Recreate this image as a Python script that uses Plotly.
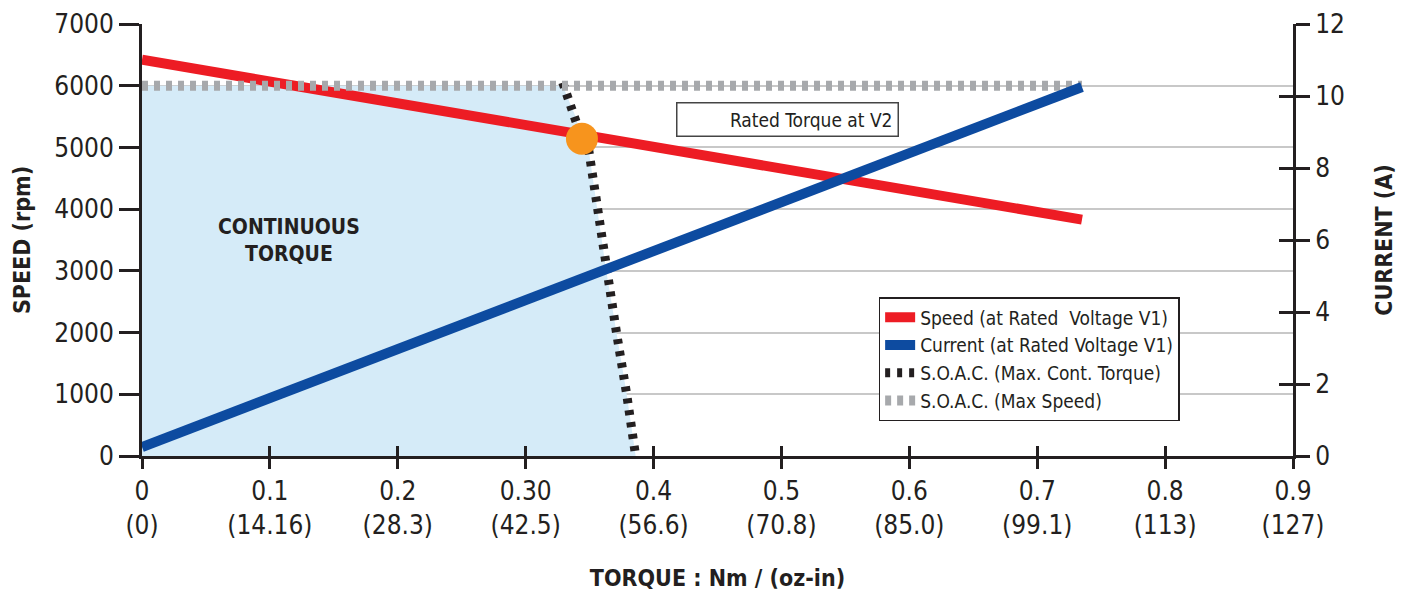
import plotly.graph_objects as go

# ---- data ----
torque_line = [0.0, 0.735]
speed_rpm = [6420, 3830]
current_a = [0.25, 10.25]
max_speed_torque = [0.0, 0.735]
max_speed_rpm = [6000, 6000]
soac_torque = [0.329, 0.339, 0.344, 0.349, 0.356, 0.363, 0.371, 0.379, 0.386]
soac_speed = [6050, 5500, 5140, 5000, 4000, 3000, 2000, 1000, 0]
rated_point_torque = [0.344]
rated_point_speed = [5140]
x_tickvals = [0, 0.1, 0.2, 0.3, 0.4, 0.5, 0.6, 0.7, 0.8, 0.9]
x_ticktext = ["0<br>(0)", "0.1<br>(14.16)", "0.2<br>(28.3)", "0.30<br>(42.5)", "0.4<br>(56.6)",
              "0.5<br>(70.8)", "0.6<br>(85.0)", "0.7<br>(99.1)", "0.8<br>(113)", "0.9<br>(127)"]
y_tickvals = [0, 1000, 2000, 3000, 4000, 5000, 6000, 7000]
y2_tickvals = [0, 2, 4, 6, 8, 10, 12]

FONT = "DejaVu Sans Condensed, Liberation Sans Narrow, Arial Narrow, sans-serif"
DARK = "#231f20"

# fill polygon of continuous torque region
fill_x = [0.0, 0.0, soac_torque[0]] + soac_torque[1:] + [0.0]
fill_y = [0, max_speed_rpm[0], max_speed_rpm[0]] + soac_speed[1:] + [0]

fig = go.Figure()
fig.add_trace(go.Scatter(x=fill_x, y=fill_y, fill="toself", fillcolor="#d5ebf8",
                         line=dict(width=0), mode="lines", showlegend=False, hoverinfo="skip"))
fig.add_trace(go.Scatter(x=torque_line, y=speed_rpm, mode="lines", name="Speed (at Rated  Voltage V1)",
                         line=dict(color="#ed1c24", width=10)))
fig.add_trace(go.Scatter(x=torque_line, y=current_a, mode="lines", name="Current (at Rated Voltage V1)",
                         line=dict(color="#0d4ba0", width=10), yaxis="y2"))
fig.add_trace(go.Scatter(x=soac_torque, y=soac_speed, mode="lines", name="S.O.A.C. (Max. Cont. Torque)",
                         line=dict(color=DARK, width=9, dash="5px,7px")))
fig.add_trace(go.Scatter(x=max_speed_torque, y=max_speed_rpm, mode="lines", name="S.O.A.C. (Max Speed)",
                         line=dict(color="#a7a9ac", width=10, dash="6px,6px")))
fig.add_trace(go.Scatter(x=rated_point_torque, y=rated_point_speed, mode="markers",
                         marker=dict(color="#f7941d", size=32), showlegend=False, hoverinfo="skip"))
# invisible helpers for the crossing tick axes
fig.add_trace(go.Scatter(x=[None], y=[None], xaxis="x2", yaxis="y", showlegend=False, hoverinfo="skip"))
fig.add_trace(go.Scatter(x=[None], y=[None], xaxis="x", yaxis="y3", showlegend=False, hoverinfo="skip"))

tickfont = dict(family=FONT, size=26, color=DARK)
titlefont = dict(family=FONT, size=23, color=DARK, weight="bold")
fig.update_layout(
    width=1400, height=585,
    margin=dict(l=134, r=115, t=16, b=137, autoexpand=False),
    paper_bgcolor="white", plot_bgcolor="white",
    font=dict(family=FONT, color=DARK),
    xaxis=dict(range=[0, 0.9], tickvals=x_tickvals, ticktext=x_ticktext, tickfont=tickfont,
               showline=True, linecolor=DARK, linewidth=3, ticks="outside", ticklen=10,
               tickwidth=3, tickcolor=DARK, showgrid=False, zeroline=False, automargin=False,
               title=dict(text="TORQUE : Nm / (oz-in)", font=titlefont, standoff=31)),
    xaxis2=dict(range=[0, 0.9], overlaying="x", anchor="y", side="bottom", tickvals=x_tickvals,
                showticklabels=False, ticks="inside", ticklen=10, tickwidth=3, tickcolor=DARK,
                showline=False, showgrid=False, zeroline=False, automargin=False),
    yaxis=dict(range=[0, 7000], tickvals=y_tickvals, tickfont=tickfont, showline=True, linecolor=DARK,
               linewidth=3, ticks="outside", ticklen=20, tickwidth=3, tickcolor=DARK,
               showgrid=True, gridcolor="#c8c8c8", gridwidth=2, zeroline=False, automargin=False,
               title=dict(text="SPEED (rpm)", font=titlefont, standoff=18)),
    yaxis2=dict(range=[0, 12], tickvals=y2_tickvals, tickfont=tickfont, overlaying="y", side="right",
                anchor="x", showline=True, linecolor=DARK, linewidth=3, ticks="outside", ticklen=14,
                tickwidth=3, tickcolor=DARK, showgrid=False, zeroline=False, automargin=False,
                title=dict(text="CURRENT (A)", font=titlefont, standoff=32)),
    yaxis3=dict(range=[0, 12], tickvals=y2_tickvals, overlaying="y", side="right", anchor="x",
                showticklabels=False, ticks="inside", ticklen=14, tickwidth=3, tickcolor=DARK,
                showline=False, showgrid=False, zeroline=False, automargin=False),
    legend=dict(x=0.64, y=0.368, xanchor="left", yanchor="top", bgcolor="white",
                bordercolor=DARK, borderwidth=1.5, font=dict(family=FONT, size=19, color=DARK),
                traceorder="normal", itemwidth=30),
    showlegend=True,
    annotations=[
        dict(x=0.115, y=3500, xref="x", yref="y", text="CONTINUOUS<br>TORQUE", showarrow=False,
             font=dict(family=FONT, size=21, color=DARK, weight="bold")),
        dict(x=0.505, y=5460, xref="x", yref="y", text="Rated Torque at V2", showarrow=False,
             font=dict(family=FONT, size=19, color=DARK), bgcolor="white", bordercolor="#444",
             borderwidth=1.5, borderpad=5, width=210, align="right"),
    ],
)

fig.write_html("out.html")
